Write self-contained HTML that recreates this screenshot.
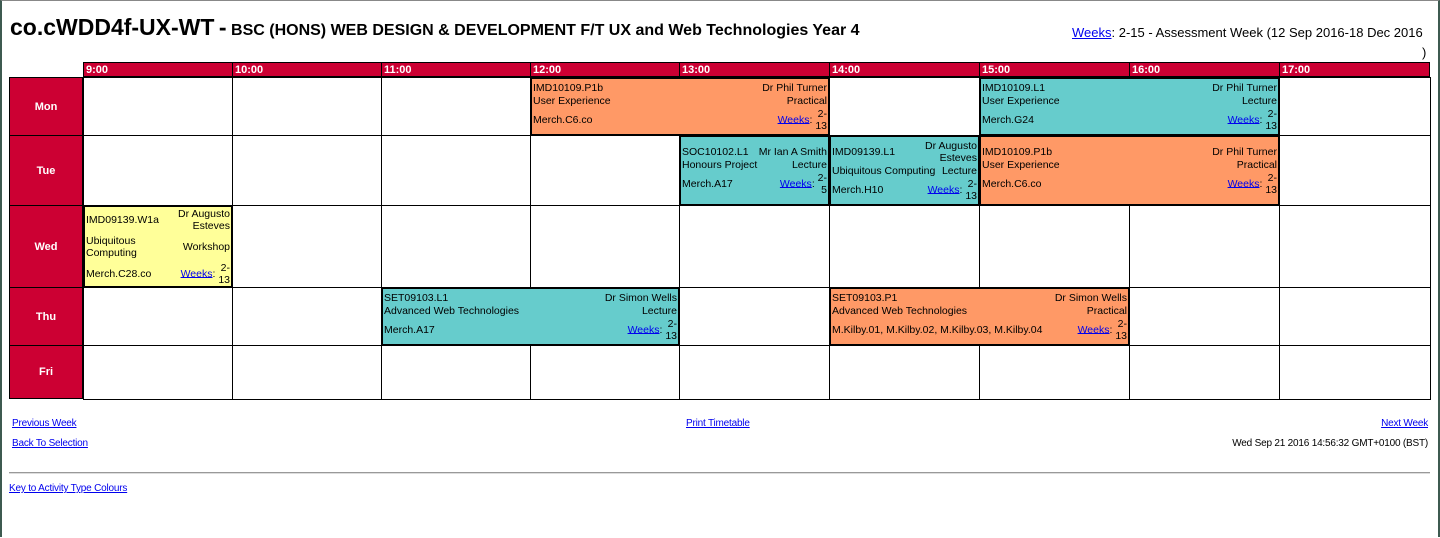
<!DOCTYPE html>
<html><head><meta charset="utf-8"><style>
body{margin:0;width:1440px;height:538px;position:relative;font-family:"Liberation Sans",Arial,sans-serif;background:#fff;overflow:hidden}
.frame{position:absolute;left:0;top:0;width:1436px;height:536px;border-left:2px solid #3d5a50;border-top:1px solid #888;border-right:2px solid #3d5a50}
.a{position:absolute}
.h{position:absolute;top:62px;height:15px;background:#cc0033;color:#fff;font-weight:bold;font-size:11px;line-height:15px;padding-left:2px;box-sizing:border-box;border:1px solid #000}
.d{position:absolute;left:9px;width:74px;background:#cc0033;color:#fff;font-weight:bold;font-size:11px;display:flex;align-items:center;justify-content:center;box-sizing:border-box;border:1px solid #000}
.c{position:absolute;box-sizing:border-box;border:1px solid #000;background:#fff}
.e{position:absolute;box-sizing:border-box;border:2px solid #000;display:flex;flex-direction:column;justify-content:center;gap:1px;padding:0 1px;font-size:10.5px;line-height:12px;color:#000}
.e .r{display:flex;justify-content:space-between;align-items:center;white-space:nowrap}
.e .r > span:last-child{text-align:right}
.o{background:#ff9966}.t{background:#66cccc}.y{background:#ffff99}
a{color:#00e;text-decoration:underline}
.wk{display:inline-block;vertical-align:middle;text-align:right}
.f{position:absolute;font-size:10px;letter-spacing:-0.2px}
</style></head><body>
<div class="frame"></div>
<div class="a" style="left:10px;top:14px;white-space:nowrap"><span style="font-size:23px;font-weight:bold">co.cWDD4f-UX-WT</span> <span style="font-size:23px;font-weight:bold">-</span> <span style="font-size:16px;font-weight:bold">BSC (HONS) WEB DESIGN &amp; DEVELOPMENT F/T UX and Web Technologies Year 4</span></div>
<div class="a" style="left:1072px;top:25px;font-size:13px;white-space:nowrap"><a>Weeks</a>: 2-15 - Assessment Week (12 Sep 2016-18 Dec 2016</div>
<div class="a" style="left:1422px;top:45px;font-size:13px">)</div>

<div class="h" style="left:83px;width:150px">9:00</div>
<div class="h" style="left:232px;width:150px">10:00</div>
<div class="h" style="left:381px;width:150px">11:00</div>
<div class="h" style="left:530px;width:150px">12:00</div>
<div class="h" style="left:679px;width:151px">13:00</div>
<div class="h" style="left:829px;width:151px">14:00</div>
<div class="h" style="left:979px;width:151px">15:00</div>
<div class="h" style="left:1129px;width:151px">16:00</div>
<div class="h" style="left:1279px;width:151px">17:00</div>

<div class="d" style="top:77px;height:59px">Mon</div>
<div class="d" style="top:135px;height:71px">Tue</div>
<div class="d" style="top:205px;height:83px">Wed</div>
<div class="d" style="top:287px;height:59px">Thu</div>
<div class="d" style="top:345px;height:54px">Fri</div>

<div id="cells"></div>
<script>
var xs=[83,232,381,530,679,829,979,1129,1279,1430];
var ys=[77,135,205,287,345,399];
var h='';
for(var r=0;r<5;r++)for(var c=0;c<9;c++)h+='<div class="c" style="left:'+xs[c]+'px;top:'+ys[r]+'px;width:'+(xs[c+1]-xs[c]+1)+'px;height:'+(ys[r+1]-ys[r]+1)+'px"></div>';
document.getElementById('cells').innerHTML=h;
</script>

<div class="e o" style="left:530px;top:77px;width:300px;height:59px"><div class="r"><span>IMD10109.P1b</span><span>Dr Phil Turner</span></div><div class="r"><span>User Experience</span><span>Practical</span></div><div class="r"><span>Merch.C6.co</span><span><a>Weeks</a>: <span class="wk">2-<br>13</span></span></div></div>
<div class="e t" style="left:979px;top:77px;width:301px;height:59px"><div class="r"><span>IMD10109.L1</span><span>Dr Phil Turner</span></div><div class="r"><span>User Experience</span><span>Lecture</span></div><div class="r"><span>Merch.G24</span><span><a>Weeks</a>: <span class="wk">2-<br>13</span></span></div></div>

<div class="e t" style="left:679px;top:135px;width:151px;height:71px"><div class="r"><span>SOC10102.L1</span><span>Mr Ian A Smith</span></div><div class="r"><span>Honours Project</span><span>Lecture</span></div><div class="r"><span>Merch.A17</span><span><a>Weeks</a>: <span class="wk">2-<br>5</span></span></div></div>
<div class="e t" style="left:829px;top:135px;width:151px;height:71px"><div class="r"><span>IMD09139.L1</span><span>Dr Augusto<br>Esteves</span></div><div class="r"><span>Ubiquitous Computing</span><span>Lecture</span></div><div class="r"><span>Merch.H10</span><span><a>Weeks</a>: <span class="wk">2-<br>13</span></span></div></div>
<div class="e o" style="left:979px;top:135px;width:301px;height:71px"><div class="r"><span>IMD10109.P1b</span><span>Dr Phil Turner</span></div><div class="r"><span>User Experience</span><span>Practical</span></div><div class="r"><span>Merch.C6.co</span><span><a>Weeks</a>: <span class="wk">2-<br>13</span></span></div></div>

<div class="e y" style="left:83px;top:205px;width:150px;height:83px;gap:3px"><div class="r"><span>IMD09139.W1a</span><span>Dr Augusto<br>Esteves</span></div><div class="r"><span>Ubiquitous<br>Computing</span><span>Workshop</span></div><div class="r"><span>Merch.C28.co</span><span><a>Weeks</a>: <span class="wk">2-<br>13</span></span></div></div>

<div class="e t" style="left:381px;top:287px;width:299px;height:59px"><div class="r"><span>SET09103.L1</span><span>Dr Simon Wells</span></div><div class="r"><span>Advanced Web Technologies</span><span>Lecture</span></div><div class="r"><span>Merch.A17</span><span><a>Weeks</a>: <span class="wk">2-<br>13</span></span></div></div>
<div class="e o" style="left:829px;top:287px;width:301px;height:59px"><div class="r"><span>SET09103.P1</span><span>Dr Simon Wells</span></div><div class="r"><span>Advanced Web Technologies</span><span>Practical</span></div><div class="r"><span>M.Kilby.01, M.Kilby.02, M.Kilby.03, M.Kilby.04</span><span><a>Weeks</a>: <span class="wk">2-<br>13</span></span></div></div>

<div class="f" style="left:12px;top:418px"><a>Previous Week</a></div>
<div class="f" style="left:686px;top:418px"><a>Print Timetable</a></div>
<div class="f" style="right:12px;top:418px"><a>Next Week</a></div>
<div class="f" style="left:12px;top:438px"><a>Back To Selection</a></div>
<div class="f" style="right:12px;top:438px">Wed Sep 21 2016 14:56:32 GMT+0100 (BST)</div>
<div class="a" style="left:9px;top:472px;width:1421px;height:1px;background:#999;border-bottom:1px solid #ddd"></div>
<div class="f" style="left:9px;top:483px"><a>Key to Activity Type Colours</a></div>
</body></html>
